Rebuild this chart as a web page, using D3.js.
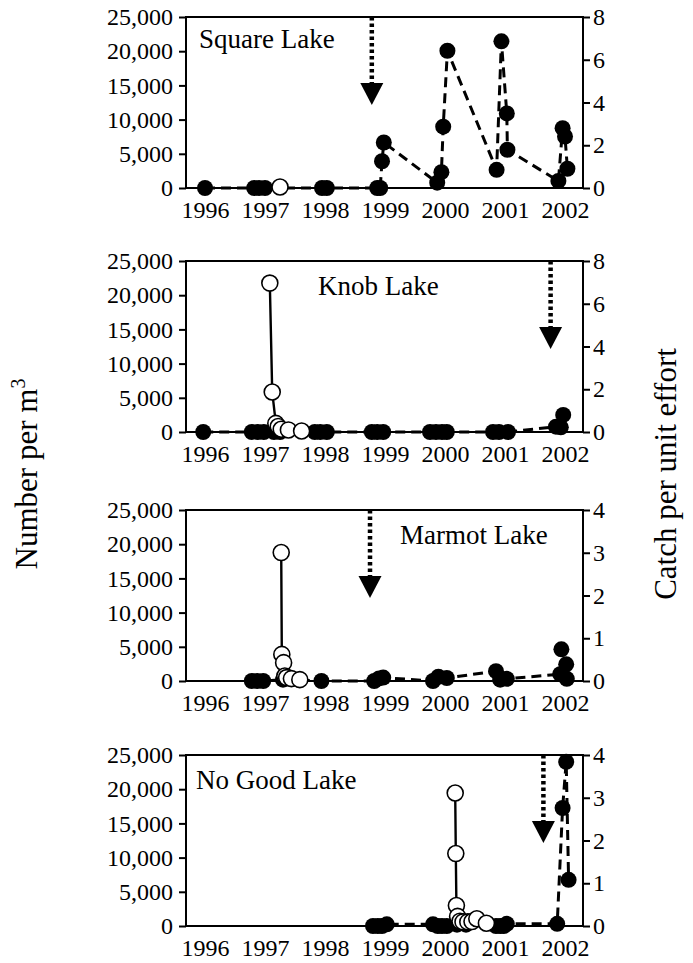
<!DOCTYPE html>
<html lang="en">
<head>
  <meta charset="UTF-8">
  <title>Zooplankton and fish catch, four lakes</title>
  <style>
    body { margin: 0; background: #fff; }
    svg { display: block; font-family: "Liberation Serif", "Times New Roman", serif; }
    .axis path, .axis line { stroke: #000; stroke-width: 2; }
    .axis text { fill: #000; }
  </style>
</head>
<body>
  <svg width="693" height="963"></svg>
  <script src="https://d3js.org/d3.v7.min.js"></script>
  <script>
  // ---- data ----
  const lakes = ["Square Lake", "Knob Lake", "Marmot Lake", "No Good Lake"];
  const yearTicks = [1996, 1997, 1998, 1999, 2000, 2001, 2002];
  const densityTicks = [0, 5000, 10000, 15000, 20000, 25000];
  const cpueMax = [8, 8, 4, 4];
  const cpueTicks = [[0, 2, 4, 6, 8], [0, 2, 4, 6, 8], [0, 1, 2, 3, 4], [0, 1, 2, 3, 4]];
  const arrowYears = [1998.78, 2001.76, 1998.75, 2001.64];

  // zooplankton, number per m3 (open circles, solid line, left axis)
  const squareDensity = [[1997.25, 150]];
  const knobDensity = [[1997.08, 21770], [1997.12, 5850], [1997.18, 1260], [1997.22, 800],
    [1997.27, 400], [1997.39, 300], [1997.61, 150]];
  const marmotDensity = [[1997.27, 18780], [1997.28, 3890], [1997.31, 2680], [1997.33, 730],
    [1997.36, 500], [1997.44, 350], [1997.58, 200]];
  const noGoodDensity = [[2000.17, 19440], [2000.18, 10590], [2000.19, 2990], [2000.21, 1400],
    [2000.25, 700], [2000.3, 600], [2000.38, 600], [2000.45, 650], [2000.53, 1060], [2000.69, 400]];

  // fish catch per unit effort (filled circles, dashed line, right axis)
  const squareCpue = [[1996.0, 0], [1996.82, 0], [1996.9, 0], [1997.0, 0], [1997.95, 0], [1998.03, 0],
    [1998.87, 0], [1998.92, 0], [1998.95, 1.25], [1998.98, 2.13], [1999.87, 0.25], [1999.94, 0.74],
    [1999.97, 2.87], [2000.04, 6.42], [2000.86, 0.85], [2000.94, 6.86], [2001.03, 3.49],
    [2001.04, 1.79], [2001.89, 0.33], [2001.96, 2.8], [2002.0, 2.41], [2002.04, 0.9]];
  const knobCpue = [[1995.97, 0], [1996.78, 0], [1996.88, 0], [1996.98, 0], [1997.15, 0], [1997.25, 0],
    [1997.83, 0], [1997.92, 0], [1998.03, 0], [1998.78, 0], [1998.87, 0], [1998.97, 0],
    [1999.75, 0], [1999.85, 0], [1999.95, 0], [2000.03, 0], [2000.8, 0], [2000.9, 0], [2001.05, 0],
    [2001.85, 0.25], [2001.93, 0.22], [2001.97, 0.8]];
  const marmotCpue = [[1996.78, 0], [1996.87, 0], [1996.97, 0], [1997.3, 0.03], [1997.94, 0],
    [1998.82, 0], [1998.9, 0.06], [1998.97, 0.08], [1999.8, 0], [1999.89, 0.1], [2000.03, 0.07],
    [2000.85, 0.23], [2000.92, 0.03], [2001.03, 0.05], [2001.92, 0.16], [2001.94, 0.74],
    [2002.02, 0.39], [2002.03, 0.05]];
  const noGoodCpue = [[1998.8, 0], [1998.88, 0], [1998.95, 0], [1999.03, 0.04], [1999.8, 0.04],
    [1999.88, 0], [1999.95, 0], [2000.03, 0], [2000.2, 0.03], [2000.35, 0.03], [2000.85, 0],
    [2000.92, 0], [2000.98, 0], [2001.03, 0.05], [2001.87, 0.05], [2001.96, 2.76], [2002.02, 3.84],
    [2002.06, 1.08]];

  const densities = [squareDensity, knobDensity, marmotDensity, noGoodDensity];
  const cpues = [squareCpue, knobCpue, marmotCpue, noGoodCpue];

  // ---- layout ----
  const left = 186, right = 583;
  const panelTops = [17, 261, 510, 755];
  const panelH = 171;
  const labelPos = [[199, 31], [318, 34], [400, 34], [196, 34]];
  const serif = '"Liberation Serif", "Times New Roman", serif';

  const svg = d3.select("svg");

  const x = d3.scaleLinear().domain([1995.683, 2002.3]).range([left, right]);

  function styleAxis(a, size) {
    a.attr("font-family", serif).attr("font-size", size);
    a.select(".domain").remove();
  }

  lakes.forEach((lake, i) => {
    const top = panelTops[i], bottom = top + panelH;
    const yL = d3.scaleLinear().domain([0, 25000]).range([bottom, top]);
    const yR = d3.scaleLinear().domain([0, cpueMax[i]]).range([bottom, top]);
    const g = svg.append("g");

    // frame
    g.append("rect")
      .attr("x", left).attr("y", top)
      .attr("width", right - left).attr("height", panelH)
      .attr("fill", "none").attr("stroke", "#000").attr("stroke-width", 2);

    g.append("g").attr("class", "axis")
      .attr("transform", `translate(${left},0)`)
      .call(d3.axisLeft(yL).tickValues(densityTicks).tickSize(7).tickPadding(6)
        .tickFormat(d3.format(",")))
      .call(styleAxis, 24);

    g.append("g").attr("class", "axis")
      .attr("transform", `translate(${right},0)`)
      .call(d3.axisRight(yR).tickValues(cpueTicks[i]).tickSize(7).tickPadding(3)
        .tickFormat(d3.format("d")))
      .call(styleAxis, 24);

    g.append("g").attr("class", "axis")
      .attr("transform", `translate(0,${bottom})`)
      .call(d3.axisBottom(x).tickValues(yearTicks).tickSize(0).tickPadding(13)
        .tickFormat(d3.format("d")))
      .call(styleAxis, 24);

    // dashed CPUE line with filled dots
    const cpueLine = d3.line().x(d => x(d[0])).y(d => yR(d[1]));
    g.append("path")
      .datum(cpues[i])
      .attr("d", cpueLine)
      .attr("fill", "none").attr("stroke", "#000")
      .attr("stroke-width", 3).attr("stroke-dasharray", "10,6");
    g.append("g").selectAll("circle")
      .data(cpues[i])
      .join("circle")
      .attr("cx", d => x(d[0])).attr("cy", d => yR(d[1]))
      .attr("r", 8).attr("fill", "#000");

    // solid density line with open dots
    const denLine = d3.line().x(d => x(d[0])).y(d => yL(d[1]));
    g.append("path")
      .datum(densities[i])
      .attr("d", denLine)
      .attr("fill", "none").attr("stroke", "#000").attr("stroke-width", 2.4);
    g.append("g").selectAll("circle")
      .data(densities[i])
      .join("circle")
      .attr("cx", d => x(d[0])).attr("cy", d => yL(d[1]))
      .attr("r", 8).attr("fill", "#fff")
      .attr("stroke", "#000").attr("stroke-width", 1.6);

    // dotted arrow
    const ax = x(arrowYears[i]);
    g.append("line")
      .attr("x1", ax).attr("x2", ax)
      .attr("y1", top).attr("y2", top + 67)
      .attr("stroke", "#000").attr("stroke-width", 4.5)
      .attr("stroke-dasharray", "3.5,3");
    g.append("path")
      .attr("d", `M${ax - 11.5},${top + 66}L${ax + 11.5},${top + 66}L${ax},${top + 88}Z`)
      .attr("fill", "#000");

    g.append("text")
      .attr("x", labelPos[i][0]).attr("y", top + labelPos[i][1])
      .attr("font-size", 27)
      .text(lake);
  });

  // axis titles
  const midY = 474;
  const lt = svg.append("text")
    .attr("transform", `translate(37,${midY}) rotate(-90)`)
    .attr("text-anchor", "middle")
    .attr("font-size", 31);
  lt.append("tspan").text("Number per m");
  lt.append("tspan").attr("dy", -12).attr("font-size", 20).text("3");

  svg.append("text")
    .attr("transform", `translate(676,${midY}) rotate(-90)`)
    .attr("text-anchor", "middle")
    .attr("font-size", 31)
    .text("Catch per unit effort");
  </script>
</body>
</html>
